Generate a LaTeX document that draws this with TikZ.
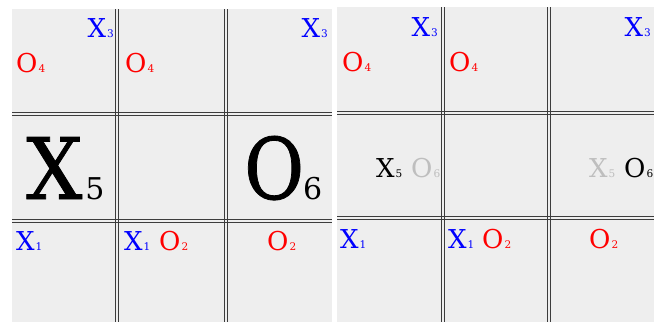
\documentclass[tikz,border=0pt]{standalone}
\usepackage{graphicx}
\usepackage{fontspec}
\setmainfont{DejaVu Serif}
\definecolor{board}{RGB}{238,238,238}
\definecolor{faded}{RGB}{190,190,190}
\definecolor{rule}{RGB}{60,60,60}
\newcommand{\smallpc}[2]{{\fontsize{26}{26}\selectfont #1}\kern1pt{\fontsize{10.5}{11}\selectfont #2}}
\newcommand{\bigpc}[4]{\scalebox{#3}[1]{\fontsize{85}{85}\selectfont\addfontfeature{FakeBold=1}#1}\kern#4{\fontsize{30}{30}\selectfont #2}}
\tikzset{
  gridline/.style={draw=rule, line width=0.7pt},
  lbl/.style={inner sep=0pt, anchor=base west},
  lblr/.style={inner sep=0pt, anchor=base east},
  xpc/.style={text=blue},
  opc/.style={text=red},
  gone/.style={text=faded}
}
\begin{document}
\begin{tikzpicture}[x=1pt,y=-1pt]
			\useasboundingbox (0,0) rectangle (661,322);
			\fill[board] (12,9) rectangle (332,322);
			\fill[board] (337,7) rectangle (654,322);
			
			\foreach \d in {-1.3,1.3} {
				\draw[gridline] (117+\d,9) -- (117+\d,322);
				\draw[gridline] (226+\d,9) -- (226+\d,322);
				\draw[gridline] (12,114+\d) -- (332,114+\d);
				\draw[gridline] (12,221+\d) -- (332,221+\d);
				\draw[gridline] (443+\d,7) -- (443+\d,322);
				\draw[gridline] (549+\d,7) -- (549+\d,322);
				\draw[gridline] (337,113+\d) -- (654,113+\d);
				\draw[gridline] (337,218+\d) -- (654,218+\d);
			}
			
			\node[lblr,xpc] (lx3a) at (114,37) {\smallpc{X}{3}};
			\node[lbl,opc] (lo4a) at (16,72) {\smallpc{O}{4}};
			\node[lbl,opc] (lo4b) at (125,72) {\smallpc{O}{4}};
			\node[lblr,xpc] (lx3b) at (328,37) {\smallpc{X}{3}};
			
			\node[lbl] (lx5) at (26,199) {\bigpc{X}{5}{0.93}{3pt}};
			\node[lbl] (lo6) at (244,199) {\bigpc{O}{6}{0.86}{-1pt}};
			
			\node[lbl,xpc] (lx1a) at (16,250) {\smallpc{X}{1}};
			\node[lbl,xpc] (lx1b) at (124,250) {\smallpc{X}{1}};
			\node[lbl,opc] (lo2a) at (159,250) {\smallpc{O}{2}};
			\node[lbl,opc] (lo2b) at (267,250) {\smallpc{O}{2}};
			
			\node[lblr,xpc] (rx3a) at (438,36) {\smallpc{X}{3}};
			\node[lbl,opc] (ro4a) at (342,71) {\smallpc{O}{4}};
			\node[lbl,opc] (ro4b) at (449,71) {\smallpc{O}{4}};
			\node[lblr,xpc] (rx3b) at (651,36) {\smallpc{X}{3}};
			
			\node[lbl] (rx5a) at (376,177) {\smallpc{X}{5}};
			\node[lbl,gone] (ro6a) at (411,177) {\smallpc{O}{6}};
			\node[lbl,gone] (rx5b) at (589,177) {\smallpc{X}{5}};
			\node[lbl] (ro6b) at (624,177) {\smallpc{O}{6}};
			
			\node[lbl,xpc] (rx1a) at (340,248) {\smallpc{X}{1}};
			\node[lbl,xpc] (rx1b) at (448,248) {\smallpc{X}{1}};
			\node[lbl,opc] (ro2a) at (482,248) {\smallpc{O}{2}};
			\node[lbl,opc] (ro2b) at (589,248) {\smallpc{O}{2}};
		\end{tikzpicture}
\end{document}
